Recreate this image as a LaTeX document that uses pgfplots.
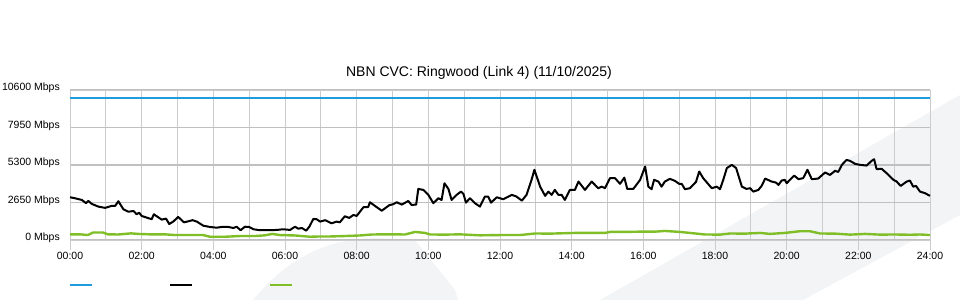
\documentclass[border=0pt]{standalone}
\usepackage{pgfplots}
\usepackage{pgfplotstable}
\usepackage{fontspec}
\setmainfont{Liberation Sans}
\pgfplotsset{compat=1.18}
\definecolor{capblue}{RGB}{30,156,222}
\definecolor{usegreen}{RGB}{128,190,40}
\definecolor{gridgray}{RGB}{204,204,204}
\definecolor{hgridgray}{RGB}{192,192,192}
\definecolor{wmgray}{RGB}{243,244,246}

\pgfplotstableread{
h v
0.00 3020
0.14 2950
0.33 2830
0.45 2600
0.51 2760
0.61 2550
0.79 2360
0.98 2270
1.16 2410
1.26 2410
1.35 2740
1.49 2170
1.63 2000
1.77 2050
1.86 1820
1.93 1930
2.00 1700
2.19 1540
2.28 1470
2.34 1820
2.46 1610
2.56 1440
2.68 1510
2.77 1130
2.88 1300
3.02 1630
3.18 1250
3.30 1320
3.42 1400
3.54 1300
3.72 1010
3.91 920
4.09 870
4.23 920
4.42 920
4.56 850
4.65 940
4.76 690
4.88 940
5.00 920
5.12 760
5.30 690
5.49 690
5.77 710
5.95 760
6.14 710
6.28 940
6.37 800
6.47 850
6.59 660
6.68 940
6.79 1490
6.88 1470
6.98 1300
7.12 1400
7.30 1180
7.44 1300
7.53 1250
7.67 1680
7.79 1560
7.91 1770
8.00 1700
8.19 2320
8.32 2320
8.37 2670
8.51 2410
8.70 2070
8.91 2460
9.02 2530
9.12 2670
9.26 2500
9.44 2760
9.53 2480
9.66 2500
9.72 3610
9.86 3540
10.00 3190
10.14 2600
10.28 2950
10.37 2830
10.45 4010
10.56 3610
10.65 2830
10.79 3190
10.91 3420
10.98 3260
11.05 2640
11.16 2950
11.30 2600
11.44 2360
11.58 3070
11.67 3070
11.75 2640
11.91 3020
12.00 2950
12.09 2880
12.33 3190
12.46 3070
12.61 2780
12.74 3190
12.88 4250
12.96 4960
13.12 3770
13.26 3120
13.35 3420
13.44 3190
13.53 3540
13.63 3190
13.72 3190
13.81 2830
13.95 3540
14.09 3540
14.19 4130
14.37 3540
14.56 4130
14.74 3660
14.84 3770
14.93 3660
15.07 4370
15.21 4370
15.35 3970
15.47 4410
15.55 3610
15.72 3610
15.91 4250
16.05 5190
16.14 3770
16.23 3590
16.30 4250
16.42 4130
16.51 3770
16.60 4130
16.74 4320
16.88 4180
17.00 3970
17.07 3970
17.16 3590
17.30 3660
17.47 4110
17.56 4840
17.67 4370
17.91 3660
18.05 3770
18.14 3590
18.23 4250
18.33 5080
18.47 5310
18.59 5080
18.75 3770
18.88 3610
18.98 3660
19.07 3420
19.21 3540
19.30 3820
19.40 4340
19.58 4130
19.70 4060
19.77 3890
19.86 4200
19.95 4250
20.00 4010
20.09 4250
20.21 4550
20.33 4300
20.46 4370
20.58 4960
20.70 4300
20.88 4340
21.07 4770
21.21 4600
21.35 4890
21.44 4810
21.54 5310
21.67 5660
21.77 5590
21.91 5380
22.05 5310
22.23 5260
22.37 5590
22.44 5710
22.51 5010
22.65 5030
22.79 4720
22.98 4250
23.07 4130
23.18 3820
23.35 4130
23.44 4200
23.53 3770
23.61 3820
23.72 3420
23.86 3310
24.00 3120
}\usedtable

\pgfplotstableread{
h v
0.00 400
0.28 400
0.50 350
0.64 530
0.92 530
1.06 400
1.34 390
1.53 430
1.70 470
1.90 430
2.23 400
2.65 400
2.93 350
3.35 350
3.71 350
3.91 230
4.33 230
4.74 280
5.16 280
5.44 330
5.64 430
5.86 350
6.28 320
6.70 230
6.98 250
7.26 250
7.67 280
8.09 320
8.43 390
8.93 400
9.35 390
9.63 570
9.91 500
10.05 390
10.47 380
10.88 400
11.44 330
12.00 350
12.56 350
12.98 460
13.40 450
13.67 470
14.09 500
14.51 500
14.93 500
15.07 570
15.49 570
15.91 590
16.33 590
16.60 640
17.02 570
17.30 500
17.72 390
18.14 380
18.42 460
18.84 450
19.26 500
19.53 430
19.95 500
20.37 620
20.65 620
20.93 460
21.35 450
21.77 380
22.19 430
22.60 380
23.02 390
23.44 370
23.72 390
24.00 350
}\greentable

\begin{document}
\begin{tikzpicture}[x=1pt,y=1pt]
% decorative background watermark
\fill[wmgray] (253,0) .. controls (290,45) and (330,62) .. (380,62) -- (415,60) -- (455,10) -- (458,0) -- cycle;
\fill[wmgray] (600,0) -- (960,205) -- (960,85) -- (803,0) -- cycle;
\begin{axis}[
  at={(70pt,60pt)}, anchor=south west,
  scale only axis, width=860pt, height=150pt,
  xmin=0, xmax=24, ymin=0, ymax=10600,
  scaled y ticks=false,
  axis line style={gridgray, line width=1pt},
  xtick={0,2,...,24},
  xticklabels={00:00,02:00,04:00,06:00,08:00,10:00,12:00,14:00,16:00,18:00,20:00,22:00,24:00},
  minor xtick={1,2,...,23},
  ytick={0,2650,5300,7950,10600},
  yticklabels={0 Mbps,2650 Mbps,5300 Mbps,7950 Mbps,10600 Mbps},
  xminorgrids, ymajorgrids,
  major grid style={hgridgray, line width=1.5pt},
  minor grid style={gridgray, line width=1pt},
  xtick pos=bottom, ytick pos=left,
  x tick style={gridgray, line width=1pt},
  y tick style={draw=none},
  xtick align=outside,
  major tick length=10pt, minor tick length=0pt,
  tick label style={font=\fontsize{10.5}{12}\selectfont, text=black},
  yticklabel style={inner sep=0pt, anchor=east, xshift=-10pt, yshift=2pt},
  xticklabel style={inner sep=0pt, anchor=north, yshift=-2pt},
  title={NBN CVC: Ringwood (Link 4) (11/10/2025)},
  title style={font=\fontsize{14}{16}\selectfont, at={(0.5,1)}, anchor=center, yshift=11pt, xshift=-21pt},
  legend columns=3,
  legend image code/.code={\draw[#1] (0pt,0pt) -- (22pt,0pt);},
  legend style={draw=none, fill=none, inner sep=0pt, outer sep=0pt,
    nodes={inner sep=0pt}, at={(0,0)}, anchor=west, xshift=-1pt, yshift=-45pt,
    /tikz/every even column/.append style={column sep=75pt}},
  clip=false,
]
\addplot[capblue, line width=2pt] coordinates {(0,10000) (24,10000)};
\addlegendentry{\hbox{}}
\addplot[black, line width=2pt, line join=round] table[x=h, y=v] {\usedtable};
\addlegendentry{\hbox{}}
\addplot[usegreen, line width=2.4pt, line join=round] table[x=h, y=v] {\greentable};
\addlegendentry{\hbox{}}
\end{axis}
\pgfresetboundingbox
\path[use as bounding box] (0,0) rectangle (960,300);
\end{tikzpicture}
\end{document}
